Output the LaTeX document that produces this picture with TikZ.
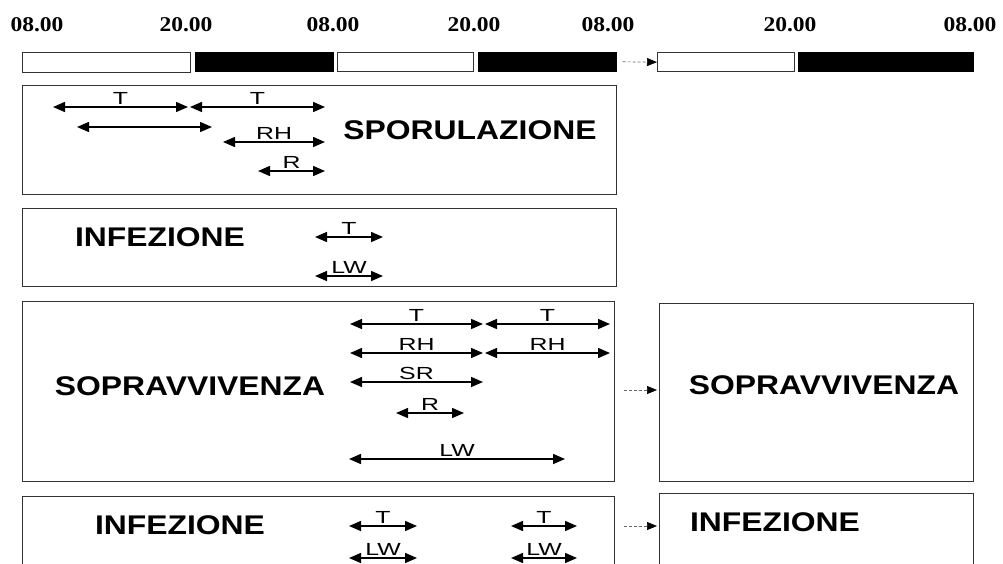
\documentclass[tikz,border=0pt]{standalone}
\usepackage{fontspec}
\setmainfont{Liberation Sans}
\newfontfamily\timefont{Liberation Serif}
\usetikzlibrary{arrows.meta}
\newcommand\bigtxt[1]{\scalebox{1.18}[1]{#1}}
\newcommand\smalltxt[1]{\scalebox{1.42}[1]{#1}}
\newcommand\timetxt[1]{\scalebox{1.12}[1]{#1}}
\tikzset{
  hour/.style={font=\timefont\bfseries\fontsize{21}{21}\selectfont, inner sep=0pt},
  lightbar/.style={draw=black!80, line width=1.3pt, fill=white, inner sep=0pt, anchor=north west},
  darkbar/.style={draw=black, line width=0.5pt, fill=black, inner sep=0pt, anchor=north west},
  phasebox/.style={draw=black!80, line width=1.3pt, fill=white, inner sep=0pt, anchor=north west},
  phasename/.style={font=\bfseries\fontsize{27}{27}\selectfont, inner sep=0pt},
  dim/.style={line width=1.5pt, {Triangle[length=12pt,width=10pt]}-{Triangle[length=12pt,width=10pt]}},
  lab/.style={font=\fontsize{17.5}{17.5}\selectfont, inner sep=0pt, above=1.5pt},
  dasharrow/.style={densely dashed, draw=black!60, line width=0.7pt, -{Triangle[length=10pt,width=8pt,black]}}
}
\begin{document}
\begin{tikzpicture}[x=1pt,y=-1pt]
\useasboundingbox (0,0) rectangle (1003,563);
\clip (0,0) rectangle (1003,563);
% hour labels
\node[hour] (h1) at (37,25) {\timetxt{08.00}};
\node[hour] (h2) at (186,25) {\timetxt{20.00}};
\node[hour] (h3) at (333,25) {\timetxt{08.00}};
\node[hour] (h4) at (474,25) {\timetxt{20.00}};
\node[hour] (h5) at (608,25) {\timetxt{08.00}};
\node[hour] (h6) at (790,25) {\timetxt{20.00}};
\node[hour] (h7) at (970,25) {\timetxt{08.00}};
% day/night bars
\node[lightbar, minimum width=168pt, minimum height=20pt] (b1) at (22,52) {};
\node[darkbar, minimum width=138pt, minimum height=19pt] (b2) at (195,52) {};
\node[lightbar, minimum width=136pt, minimum height=19pt] (b3) at (337,52) {};
\node[darkbar, minimum width=138pt, minimum height=19pt] (b4) at (478,52) {};
\node[lightbar, minimum width=137pt, minimum height=19pt] (b5) at (657,52) {};
\node[darkbar, minimum width=175pt, minimum height=19pt] (b6) at (798,52) {};
\draw[dasharrow, shorten <=6pt] (b4.east) -- (b5.west);
% phase boxes
\node[phasebox, minimum width=594pt, minimum height=109pt] (p1) at (22,85) {};
\node[phasebox, minimum width=594pt, minimum height=78pt] (p2) at (22,208) {};
\node[phasebox, minimum width=592pt, minimum height=180pt] (p3) at (22,301) {};
\node[phasebox, minimum width=592pt, minimum height=90pt] (p4) at (22,496) {};
\node[phasebox, minimum width=314pt, minimum height=178pt] (p5) at (659,303) {};
\node[phasebox, minimum width=314pt, minimum height=90pt] (p6) at (659,493) {};
% phase names
\node[phasename] (n1) at (470,130) {\bigtxt{SPORULAZIONE}};
\node[phasename] (n2) at (160,237) {\bigtxt{INFEZIONE}};
\node[phasename] (n3) at (190,386) {\bigtxt{SOPRAVVIVENZA}};
\node[phasename] (n4) at (180,525) {\bigtxt{INFEZIONE}};
\node[phasename] (n5) at (824,385) {\bigtxt{SOPRAVVIVENZA}};
\node[phasename] (n6) at (775,522) {\bigtxt{INFEZIONE}};
% continuation arrows
\coordinate (c3) at (616,390);
\coordinate (c4) at (616,526);
\draw[dasharrow, shorten <=8pt, shorten >=2pt] (c3) -- (p5.west |- c3);
\draw[dasharrow, shorten <=8pt, shorten >=2pt] (c4) -- (p6.west |- c4);
% sporulazione
\draw[dim] (53,107) -- node[lab]{\smalltxt{T}} (188,107);
\draw[dim] (190,107) -- node[lab]{\smalltxt{T}} (325,107);
\draw[dim] (77,127) -- (212,127);
\draw[dim] (223,142) -- node[lab]{\smalltxt{RH}} (325,142);
\draw[dim] (258,171) -- node[lab]{\smalltxt{R}} (325,171);
% infezione 1
\draw[dim] (315,237) -- node[lab]{\smalltxt{T}} (383,237);
\draw[dim] (315,276) -- node[lab]{\smalltxt{LW}} (383,276);
% sopravvivenza
\draw[dim] (350,324) -- node[lab]{\smalltxt{T}} (483,324);
\draw[dim] (485,324) -- node[lab]{\smalltxt{T}} (610,324);
\draw[dim] (350,353) -- node[lab]{\smalltxt{RH}} (483,353);
\draw[dim] (485,353) -- node[lab]{\smalltxt{RH}} (610,353);
\draw[dim] (350,382) -- node[lab]{\smalltxt{SR}} (483,382);
\draw[dim] (396,413) -- node[lab]{\smalltxt{R}} (464,413);
\draw[dim] (349,459) -- node[lab]{\smalltxt{LW}} (565,459);
% infezione 2
\draw[dim] (349,526) -- node[lab]{\smalltxt{T}} (417,526);
\draw[dim] (511,526) -- node[lab]{\smalltxt{T}} (577,526);
\draw[dim] (349,558) -- node[lab]{\smalltxt{LW}} (417,558);
\draw[dim] (511,558) -- node[lab]{\smalltxt{LW}} (577,558);
\end{tikzpicture}
\end{document}
